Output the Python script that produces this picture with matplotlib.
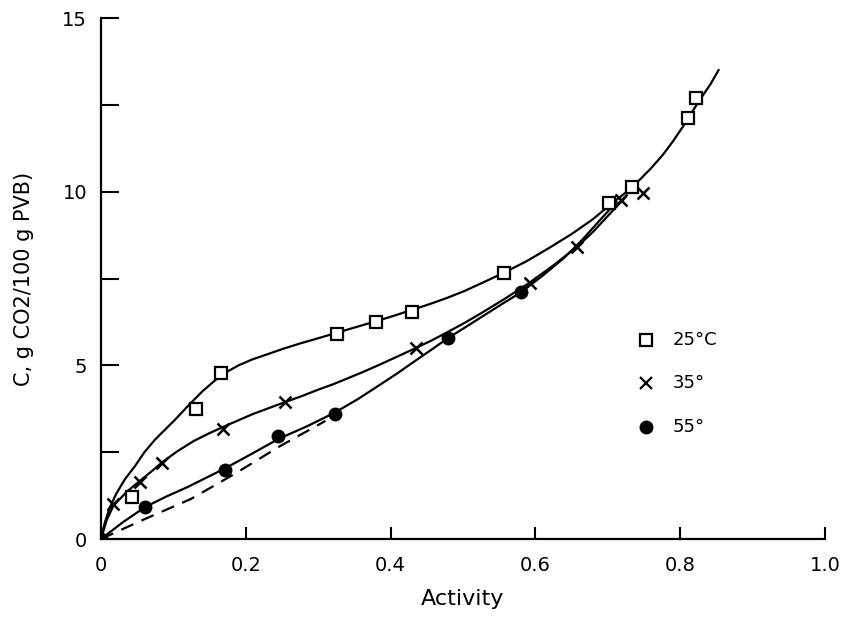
import matplotlib
matplotlib.use("Agg")
import matplotlib.pyplot as plt

# ---- measured points ----
x25 = [0.043, 0.131, 0.166, 0.326, 0.380, 0.430, 0.556, 0.702, 0.734, 0.811, 0.822]
y25 = [1.20, 3.74, 4.77, 5.89, 6.26, 6.55, 7.67, 9.68, 10.14, 12.13, 12.70]

x35 = [0.017, 0.054, 0.084, 0.168, 0.254, 0.435, 0.592, 0.658, 0.718, 0.748]
y35 = [1.00, 1.64, 2.20, 3.18, 3.94, 5.50, 7.38, 8.42, 9.77, 9.97]

x55 = [0.0, 0.061, 0.171, 0.245, 0.323, 0.479, 0.580]
y55 = [0.0, 0.92, 2.00, 2.97, 3.59, 5.80, 7.10]

# ---- fitted curves ----
c25_x = [0.0, 0.005, 0.012, 0.021, 0.033, 0.047, 0.060, 0.075, 0.090, 0.103, 0.121,
         0.140, 0.166, 0.190, 0.209, 0.230, 0.252, 0.275, 0.300, 0.326, 0.352, 0.380,
         0.405, 0.430, 0.455, 0.479, 0.502, 0.525, 0.556, 0.588, 0.619, 0.650, 0.679,
         0.702, 0.725, 0.744, 0.760, 0.776, 0.790, 0.804, 0.815, 0.829, 0.842, 0.853]
c25_y = [0.0, 0.45, 0.90, 1.30, 1.72, 2.10, 2.50, 2.87, 3.18, 3.45, 3.85,
         4.25, 4.72, 5.00, 5.17, 5.32, 5.48, 5.63, 5.78, 5.94, 6.10, 6.27,
         6.43, 6.60, 6.77, 6.95, 7.14, 7.36, 7.66, 8.00, 8.38, 8.78, 9.20,
         9.60, 9.98, 10.34, 10.68, 11.06, 11.45, 11.88, 12.25, 12.70, 13.10, 13.50]

c35_x = [0.0, 0.008, 0.017, 0.035, 0.054, 0.070, 0.084, 0.105, 0.128, 0.148, 0.168,
         0.190, 0.210, 0.232, 0.254, 0.278, 0.300, 0.320, 0.340, 0.362, 0.386,
         0.410, 0.435, 0.457, 0.479, 0.502, 0.525, 0.558, 0.592, 0.625, 0.658,
         0.680, 0.700, 0.725]
c35_y = [0.0, 0.55, 0.95, 1.35, 1.68, 1.95, 2.20, 2.52, 2.82, 3.03, 3.22,
         3.42, 3.60, 3.77, 3.94, 4.12, 4.30, 4.45, 4.62, 4.81, 5.03,
         5.26, 5.50, 5.72, 5.96, 6.22, 6.50, 6.92, 7.38, 7.88, 8.42,
         8.85, 9.30, 9.85]

c55_x = [0.0, 0.030, 0.061, 0.090, 0.120, 0.145, 0.171, 0.208, 0.245, 0.285, 0.323,
         0.355, 0.386, 0.410, 0.432, 0.455, 0.479, 0.505, 0.530, 0.555, 0.580,
         0.610, 0.640, 0.665, 0.690, 0.712]
c55_y = [0.0, 0.48, 0.92, 1.22, 1.50, 1.76, 2.03, 2.45, 2.88, 3.25, 3.64,
         4.03, 4.45, 4.78, 5.10, 5.43, 5.78, 6.12, 6.45, 6.78, 7.10,
         7.58, 8.10, 8.62, 9.20, 9.70]

dash_x = [0.0, 0.060, 0.124, 0.185, 0.247, 0.310]
dash_y = [0.0, 0.57, 1.15, 1.88, 2.67, 3.40]

legend_labels = ["25°C", "35°", "55°"]
x_ticks = [0.0, 0.2, 0.4, 0.6, 0.8, 1.0]
x_tick_labels = ["0", "0.2", "0.4", "0.6", "0.8", "1.0"]
y_ticks = [0, 2.5, 5, 7.5, 10, 12.5, 15]
y_tick_labels = ["0", "", "5", "", "10", "", "15"]

plt.rcParams['font.family'] = ['DejaVu Sans']
fig = plt.figure(figsize=(8.45, 6.17), dpi=100)
ax = fig.add_axes([0.1195, 0.1264, 0.8568, 0.8444])

lw = 1.6
ax.plot(c25_x, c25_y, color='black', lw=lw, zorder=2)
ax.plot(c35_x, c35_y, color='black', lw=lw, zorder=2)
ax.plot(c55_x, c55_y, color='black', lw=lw, zorder=2)
ax.plot(dash_x, dash_y, color='black', lw=lw, ls=(0, (6, 4)), zorder=2)

ax.plot(x25, y25, ls='none', marker='s', ms=9, mfc='white', mec='black', mew=1.6, zorder=3)
ax.plot(x35, y35, ls='none', marker='x', ms=9, mec='black', mew=1.8, zorder=3)
ax.plot(x55, y55, ls='none', marker='o', ms=9, mfc='black', mec='black', zorder=3)

# legend (manual, no frame)
leg_marks = [dict(marker='s', mfc='white', mec='black', mew=1.6, ms=8),
             dict(marker='x', mec='black', mew=1.6, ms=8),
             dict(marker='o', mfc='black', mec='black', ms=9)]
leg_y = [0.382, 0.300, 0.215]
for lab, mk, yy in zip(legend_labels, leg_marks, leg_y):
    ax.plot([0.753], [yy], ls='none', transform=ax.transAxes, clip_on=False, **mk)
    ax.text(0.789, yy, lab, transform=ax.transAxes, va='center', ha='left', fontsize=13)

ax.set_xlim(0, 1.0)
ax.set_ylim(0, 15)
ax.set_xticks(x_ticks)
ax.set_xticklabels(x_tick_labels, fontsize=14)
ax.set_yticks(y_ticks)
ax.set_yticklabels(y_tick_labels, fontsize=14)
ax.tick_params(axis='y', direction='in', length=13, width=1.5, pad=10)
ax.tick_params(axis='x', direction='in', length=9, width=1.5, pad=12)

for s in ['top', 'right']:
    ax.spines[s].set_visible(False)
for s in ['left', 'bottom']:
    ax.spines[s].set_linewidth(1.6)

ax.set_xlabel("Activity", fontsize=16, labelpad=10)
ax.set_ylabel("C, g CO2/100 g PVB)", fontsize=15, labelpad=20)

fig.savefig("out.png", dpi=100)
